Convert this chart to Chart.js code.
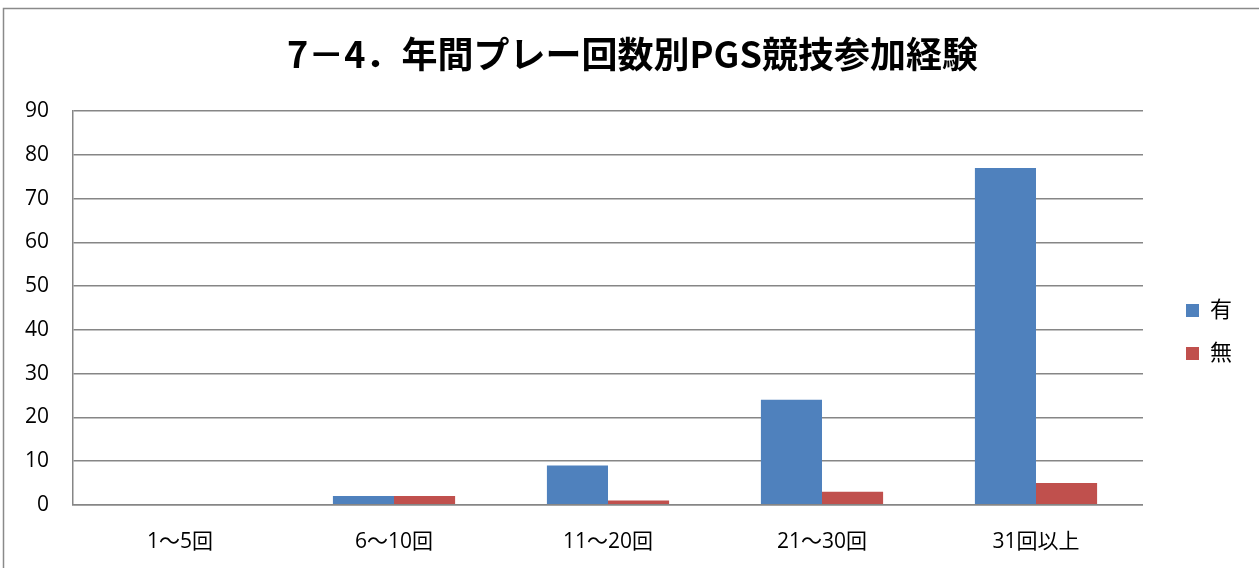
<!DOCTYPE html>
<html>
<head>
<meta charset="utf-8">
<script src="https://cdn.jsdelivr.net/npm/chart.js@4"></script>
<style>
  html, body { margin: 0; padding: 0; background: #fff; }
  #wrap { width: 1259px; height: 568px; position: relative; }
</style>
</head>
<body>
<div id="wrap"><canvas id="grafico"></canvas></div>
<script>
const ctx = document.getElementById('grafico');

let kaisu = ["1〜5回", "6〜10回", "11〜20回", "21〜30回", "31回以上"]
let ari = [0, 2, 9, 24, 77]
let nashi = [0, 2, 1, 3, 5]
let fuente = "'Open Sans', 'Noto Sans CJK JP', sans-serif"
let fuenteTitulo = "'Noto Sans CJK JP', sans-serif"

// marco gris; leyenda y título un poco movidos
const marco = {
    id: 'marco',
    afterLayout(chart) {
        chart.legend.top += 42;
        chart.legend.bottom += 42;
        chart.legend.left += 22;
        chart.legend.right += 22;
        chart.titleBlock.left += 22;
        chart.titleBlock.right += 22;
    },
    beforeDraw(chart) {
        const c = chart.ctx;
        c.save();
        c.fillStyle = '#ffffff';
        c.fillRect(0, 0, chart.width, chart.height);
        c.strokeStyle = '#8a8a8a';
        c.lineWidth = 1.5;
        c.strokeRect(3.5, 8.5, chart.width + 10, chart.height + 10);
        c.restore();
    }
};

new Chart(ctx, {
    type: 'bar',
    data: {
        labels: kaisu,
        datasets: [{
            label: '有',
            data: ari,
            backgroundColor: '#4f81bd',
            borderWidth: 0
        }, {
            label: '無',
            data: nashi,
            backgroundColor: '#c0504d',
            borderWidth: 0
        }]
    },
    options: {
        responsive: true,
        maintainAspectRatio: false,
        animation: false,
        layout: { padding: { left: 1, right: 39, bottom: -12 } },
        datasets: {
            bar: { categoryPercentage: 0.571, barPercentage: 1 }
        },
        plugins: {
            title: {
                display: true,
                text: '7－4．年間プレー回数別PGS競技参加経験',
                color: '#000',
                font: { family: fuenteTitulo, size: 36, weight: 'bold' },
                padding: { top: 33, bottom: 35 }
            },
            legend: {
                position: 'right',
                labels: {
                    color: '#000',
                    font: { family: fuente, size: 22 },
                    boxWidth: 13,
                    boxHeight: 13,
                    padding: 21
                }
            },
            tooltip: { enabled: false }
        },
        scales: {
            x: {
                grid: { display: false, drawTicks: false },
                border: { color: '#868686', width: 1.5 },
                ticks: {
                    color: '#000',
                    font: { family: fuente, size: 21 },
                    padding: 25
                }
            },
            y: {
                min: 0,
                max: 90,
                grid: { color: '#868686', lineWidth: 1.5, drawTicks: false },
                border: { color: '#868686', width: 1.5 },
                ticks: {
                    stepSize: 10,
                    color: '#000',
                    font: { family: fuente, size: 21 },
                    padding: 24
                }
            }
        }
    },
    plugins: [marco]
});
</script>
</body>
</html>
